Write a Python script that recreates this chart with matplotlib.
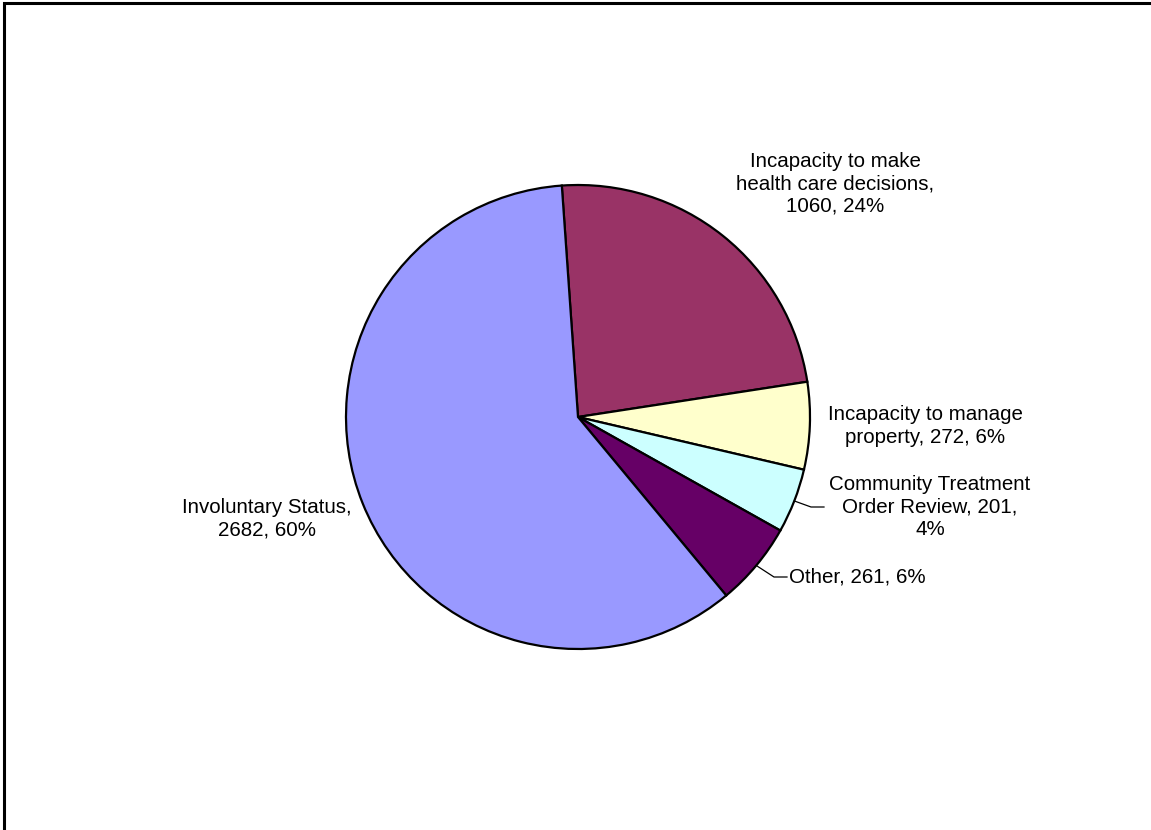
import numpy as np
import matplotlib
matplotlib.use('Agg')
from matplotlib import pyplot as plt
from matplotlib.patches import Rectangle

plt.rcParams['font.family'] = ['Liberation Sans', 'DejaVu Sans']

names = ['Incapacity to make\nhealth care decisions', 'Incapacity to manage\nproperty',
         'Community Treatment\nOrder Review', 'Other', 'Involuntary Status']
values = [1060, 272, 201, 261, 2682]
colors = ['#993366', '#FFFFCC', '#CCFFFF', '#660066', '#9999FF']

W, H = 1151, 830
fig = plt.figure(figsize=(W / 100, H / 100), dpi=100)
ax = fig.add_axes([0, 0, 1, 1])

cx, cy, r = 578, H - 417, 232
wedges, _ = ax.pie(values, colors=colors, startangle=94, counterclock=False,
                   center=(cx, cy), radius=r,
                   wedgeprops=dict(edgecolor='black', linewidth=1.6))
ax.set_xlim(0, W)
ax.set_ylim(0, H)
ax.set_aspect('equal')
ax.axis('off')

total = sum(values)
texts = []
for n, v in zip(names, values):
    pct = round(v / total * 100)
    texts.append(f'{n}, {v}, {pct}%')
texts[0] = 'Incapacity to make\nhealth care decisions,\n1060, 24%'
texts[2] = 'Community Treatment\nOrder Review, 201,\n4%'
texts[4] = 'Involuntary Status,\n2682, 60%'

# label positions (pixel coords, top-left origin)
pos = [(835, 184, 'center'), (925, 426, 'center'), (930, 507, 'center'),
       (789, 577, 'left'), (267, 519, 'center')]
for t, (px, py, ha) in zip(texts, pos):
    ax.text(px, H - py, t, ha=ha, va='center', fontsize=14.8,
            linespacing=1.22, color='black')

# leader lines for the small slices
for i, (ex, ey) in [(2, (824, 507)), (3, (787, 577))]:
    w = wedges[i]
    mid = np.deg2rad((w.theta1 + w.theta2) / 2)
    sx, sy = cx + r * np.cos(mid), cy + r * np.sin(mid)
    ax.plot([sx, ex - 13, ex], [sy, H - ey, H - ey], color='black', lw=0.9)

# outer chart border
fig.patches.append(Rectangle((4 / W, 0 - 0.01), 2, (H - 3) / H + 0.01,
                             transform=fig.transFigure, fill=False,
                             edgecolor='black', linewidth=2.2))

fig.savefig('out.png', dpi=100)
